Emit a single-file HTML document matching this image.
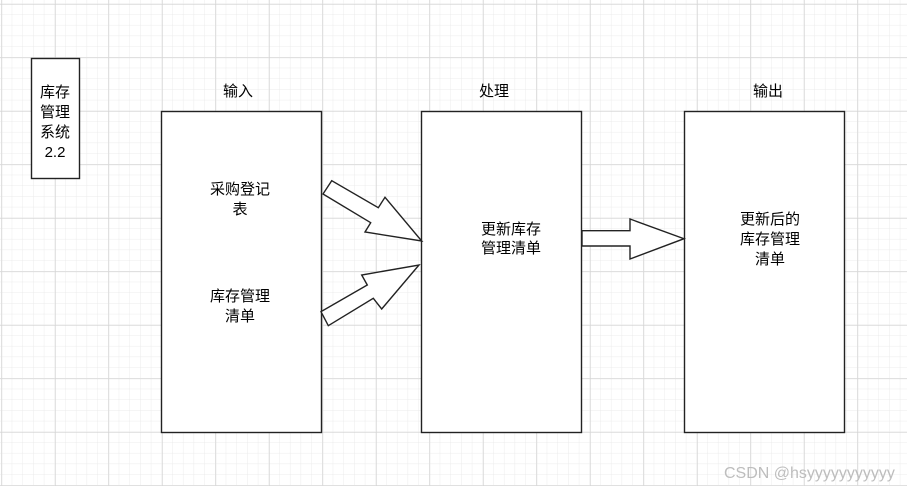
<!DOCTYPE html>
<html><head><meta charset="utf-8"><style>
html,body{margin:0;padding:0;background:#fff;}
svg{display:block;}
text{font-family:"Liberation Sans","Noto Sans CJK SC",sans-serif;font-size:15px;fill:#000;}
</style></head><body>
<svg width="907" height="486" xmlns="http://www.w3.org/2000/svg">
<defs>
<pattern id="minor" x="1.5" y="4" width="10.7" height="10.7" patternUnits="userSpaceOnUse">
<path d="M10.7 0V10.7M0 10.7H10.7" stroke="#ebebeb" stroke-width="1" fill="none"/>
</pattern>
<pattern id="major" x="1.5" y="4" width="53.5" height="53.5" patternUnits="userSpaceOnUse">
<path d="M0 0V53.5M0 0H53.5" stroke="#d4d4d4" stroke-width="1.3" fill="none"/>
</pattern>
</defs>
<rect width="907" height="486" fill="#fff"/>
<rect width="907" height="486" fill="url(#minor)"/>
<rect width="907" height="486" fill="url(#major)"/>
<g fill="#fff" stroke="#222" stroke-width="1.4">
<rect x="31.5" y="58.5" width="48" height="120"/>
<rect x="161.5" y="111.5" width="160" height="321"/>
<rect x="421.5" y="111.5" width="160" height="321"/>
<rect x="684.5" y="111.5" width="160" height="321"/>
<polygon points="331.7,180.7 323,194 370.7,222.7 365,232 421.7,241 385,197.3 378.3,207.7"/>
<polygon points="321,311.7 328.3,325.7 373.3,298.3 381.7,309 419,265 361.7,275 367.3,285"/>
<polygon points="582,230.7 630,230.7 630,219 684,238.7 630,259 630,246 582,246"/>
</g>
<g text-anchor="middle">
<text x="55" y="97">库存</text>
<text x="55" y="117">管理</text>
<text x="55" y="137">系统</text>
<text x="55" y="157">2.2</text>
<text x="238" y="96">输入</text>
<text x="494" y="96">处理</text>
<text x="768" y="96">输出</text>
<text x="240" y="194">采购登记</text>
<text x="240" y="214">表</text>
<text x="240" y="301">库存管理</text>
<text x="240" y="321">清单</text>
<text x="511" y="234">更新库存</text>
<text x="511" y="253">管理清单</text>
<text x="770" y="224">更新后的</text>
<text x="770" y="244">库存管理</text>
<text x="770" y="264">清单</text>
</g>
<text x="724" y="478" style="font-size:16px;fill:#bdbdbd">CSDN @hsyyyyyyyyyyy</text>
</svg>
</body></html>
